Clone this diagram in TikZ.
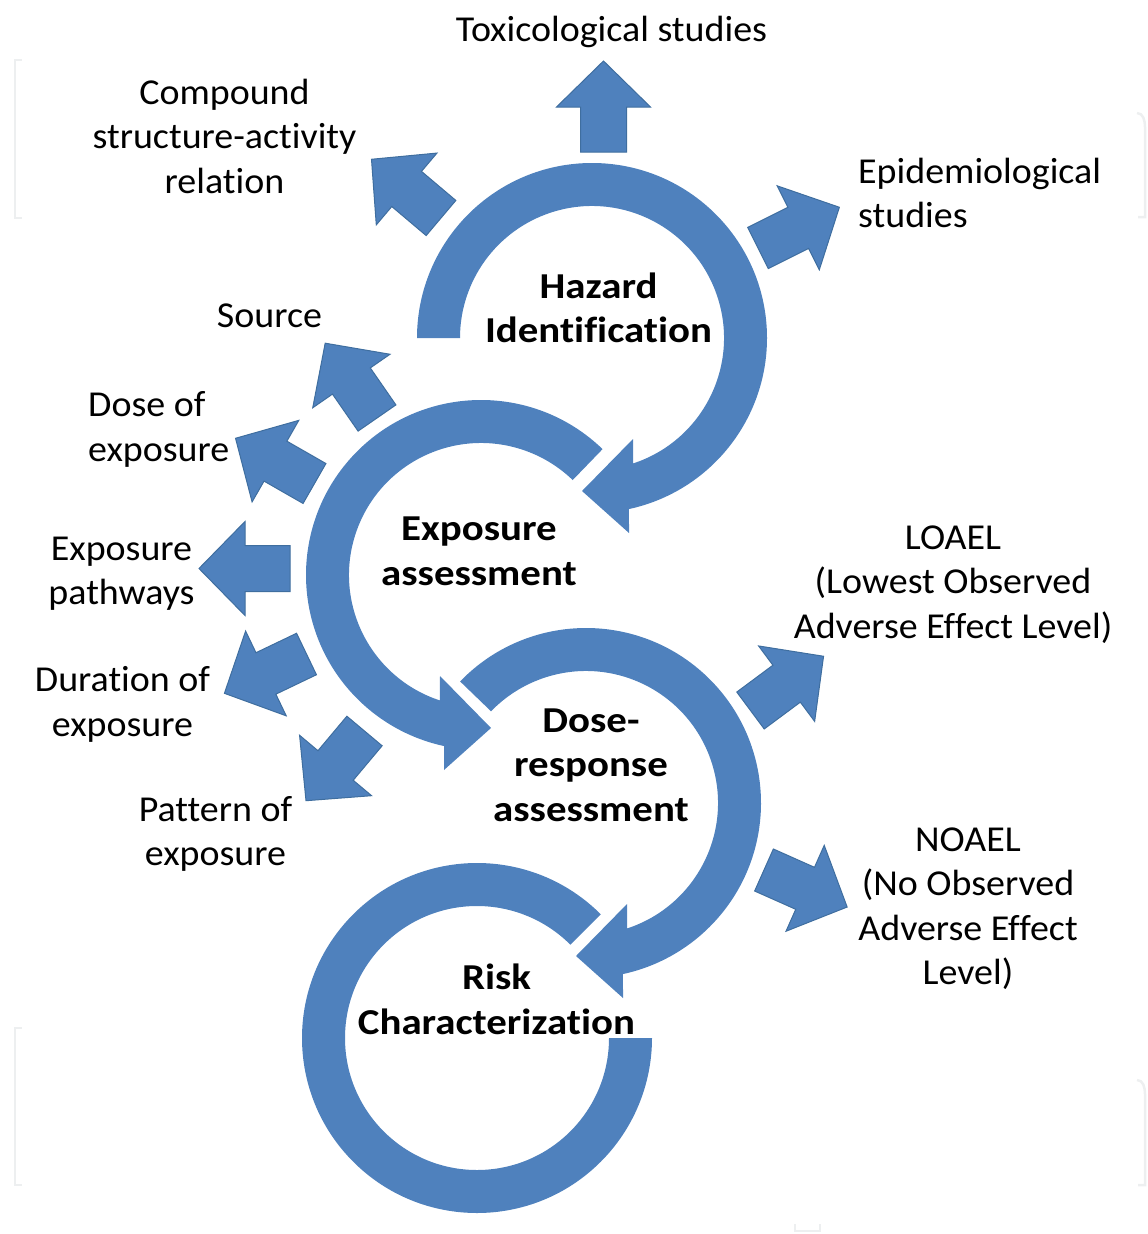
\documentclass[tikz,border=0pt]{standalone}
\usepackage{fontspec}
\setmainfont{Carlito}[FakeStretch=1.04, Ligatures=CommonOff, BoldFeatures={FakeStretch=1.12}]
\definecolor{ringblue}{HTML}{4F81BD}
\definecolor{blkedge}{HTML}{3F6E9F}
\definecolor{brkgray}{HTML}{EDEFF0}
\begin{document}
\begin{tikzpicture}[x=1pt, y=1pt,
  ring/.style={fill=ringblue},
  blk/.style={fill=ringblue, draw=blkedge, line width=1pt},
  brk/.style={draw=brkgray, line width=2.5pt},
  lbl/.style={font=\fontsize{36.5}{44.5}\selectfont, align=center, inner sep=0pt},
  bold/.style={lbl, font=\fontsize{36.5}{44.5}\selectfont\bfseries},
  outarrow/.pic={\filldraw[blk] (0,-23) -- (45,-23) -- (45,-47) -- (91,0) -- (45,47) -- (45,23) -- (0,23) -- cycle;}]
\useasboundingbox (0,0) rectangle (1148,-1234);
\draw[brk] (22,-60) -- (15,-60) -- (15,-218) -- (22,-218);
\draw[brk] (1137,-113) to[out=0,in=90] (1145,-127) -- (1145,-217) -- (1138,-217);
\draw[brk] (22,-1028) -- (15,-1028) -- (15,-1185) -- (22,-1185);
\draw[brk] (1137,-1080) to[out=0,in=90] (1145,-1094) -- (1145,-1185) -- (1138,-1185);
\draw[brk] (795,-1224) -- (795,-1231) -- (820,-1231) -- (820,-1224);
\coordinate (hazc) at (592,-338);
\coordinate (expc) at (481,-575);
\coordinate (dosc) at (586,-803);
\coordinate (riskc) at (477,-1038);
\begin{scope}[shift={(hazc)}]
\fill[ring] (180:175) arc[start angle=180, end angle=-77.8, radius=175] -- (37,-195) -- (-10,-153) -- (41,-101) -- (-71.8:132) arc[start angle=-71.8, end angle=180, radius=132] -- cycle;
\end{scope}
\begin{scope}[shift={(expc)}, xscale=-1]
\fill[ring] (134:175) arc[start angle=134, end angle=-77.8, radius=175] -- (37,-195) -- (-10,-153) -- (41,-101) -- (-71.8:132) arc[start angle=-71.8, end angle=134, radius=132] -- cycle;
\end{scope}
\begin{scope}[shift={(dosc)}]
\fill[ring] (136:175) arc[start angle=136, end angle=-77.8, radius=175] -- (37,-195) -- (-10,-153) -- (41,-101) -- (-71.8:132) arc[start angle=-71.8, end angle=136, radius=132] -- cycle;
\end{scope}
\begin{scope}[shift={(riskc)}]
\fill[ring] (45:175) arc[start angle=45, end angle=360, radius=175] -- (0:132) arc[start angle=360, end angle=45, radius=132] -- cycle;
\end{scope}
\pic[rotate=90] at (603.5,-152) {outarrow};
\pic[rotate=139.8] at (441,-218) {outarrow};
\pic[rotate=26.6] at (758,-248) {outarrow};
\pic[rotate=124.7] at (377,-418) {outarrow};
\pic[rotate=150.2] at (314.5,-483.5) {outarrow};
\pic[rotate=180] at (290,-568.5) {outarrow};
\pic[rotate=205.6] at (306.5,-654) {outarrow};
\pic[rotate=230] at (364.5,-731) {outarrow};
\pic[rotate=36.6] at (750.5,-710.5) {outarrow};
\pic[rotate=-24] at (764,-870) {outarrow};
\node[lbl] (tox) at (611.5,-33.1) {\strut Toxicological studies};
\node[lbl] (comp) at (224.5,-139.6) {\strut Compound\\structure-activity\\relation\strut};
\node[lbl, align=left, anchor=west] (epid) at (858,-196.6) {\strut Epidemiological\\studies\strut};
\node[lbl] (src) at (269.5,-318.6) {\strut Source};
\node[lbl, align=left, anchor=west] (dosexp) at (88,-430.1) {\strut Dose of\\exposure\strut};
\node[lbl] (path) at (121.5,-573.6) {\strut Exposure\\pathways\strut};
\node[lbl] (dur) at (122.5,-705.1) {\strut Duration of\\exposure\strut};
\node[lbl] (pat) at (215.5,-834.4) {\strut Pattern of\\exposure\strut};
\node[lbl] (loael) at (953,-584.6) {\strut LOAEL\\(Lowest Observed\\Adverse Effect Level)\strut};
\node[lbl] (noael) at (968,-909) {\strut NOAEL\\(No Observed\\Adverse Effect\\Level)\strut};
\node[bold] (haz) at (598.5,-311.6) {\strut Hazard\\Identification\strut};
\node[bold] (expo) at (479,-554) {\strut Exposure\\assessment\strut};
\node[bold] (dose) at (591,-767.8) {\strut Dose-\\response\\assessment\strut};
\node[bold] (risk) at (496.5,-1003.1) {\strut Risk\\Characterization\strut};
\end{tikzpicture}
\end{document}
